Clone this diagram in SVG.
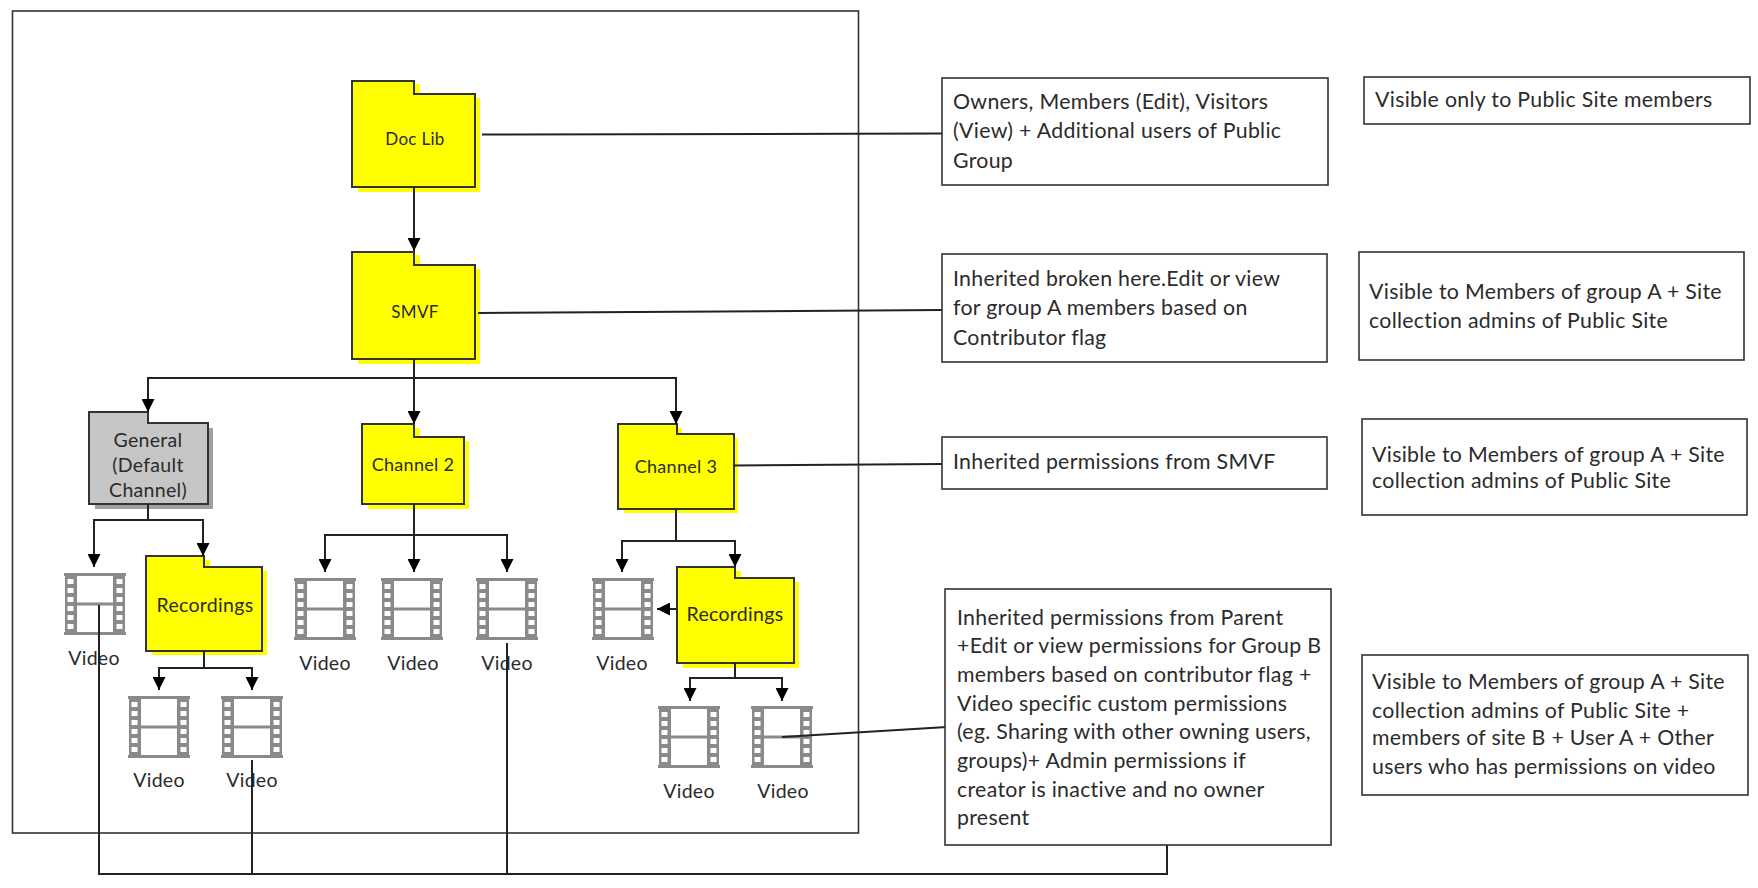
<svg xmlns="http://www.w3.org/2000/svg" xmlns:xlink="http://www.w3.org/1999/xlink" width="1758" height="888" viewBox="0 0 1758 888">
<style>
text{font-family:"Lato","Open Sans","Liberation Sans",sans-serif;fill:#2b2b2b}
.t{font-size:21.300px;letter-spacing:.3px}
.c{text-anchor:middle;font-size:19.500px;letter-spacing:.3px}
.s{font-size:17px}
.m{font-size:18px}
.box{fill:#fff;stroke:#333;stroke-width:1.6}
.folder{fill:#ff0;stroke:#333;stroke-width:2}
.shadow{fill:#ff0}
.gray{fill:#c6c6c6;stroke:#333;stroke-width:2}
.gshadow{fill:#a0a0a0}
.line{fill:none;stroke:#222;stroke-width:2}
</style>
<defs>
<marker id="arrow" markerUnits="userSpaceOnUse" markerWidth="14" markerHeight="13" refX="13" refY="6.5" orient="auto"><path d="M0 0L13 6.5L0 13Z" fill="#000"/></marker>
<symbol id="film" viewBox="0 0 62 64" width="62" height="64">
<path d="M0 2.500H62M0 61.500H62" stroke="#8a8a8a" stroke-width="3" fill="none"/>
<rect x="11.500" y="2.500" width="39" height="59" fill="#fff" stroke="#8a8a8a" stroke-width="3"/>
<path d="M11 32H51" stroke="#8a8a8a" stroke-width="3" fill="none"/>
<path d="M1 1H11V63H1ZM51 1H61V63H51Z" fill="#8a8a8a"/>
<path d="M3.500 7h6v5h-6zM3.500 16h6v5h-6zM3.500 25h6v5h-6zM3.500 34h6v5h-6zM3.500 43h6v5h-6zM3.500 52h6v5h-6zM52.500 7h6v5h-6zM52.500 16h6v5h-6zM52.500 25h6v5h-6zM52.500 34h6v5h-6zM52.500 43h6v5h-6zM52.500 52h6v5h-6z" fill="#fff"/>
</symbol>
</defs>
<rect id="frame" x="12.500" y="11" width="846" height="822" fill="#fff" stroke="#333" stroke-width="1.6"/>

<g id="doclib"><path class="shadow" d="M414 84h6v14h60v94H358v-5H414Z"/><path class="folder" d="M352 81H414V94H475V187H352Z"/><text class="c s" x="415" y="145">Doc Lib</text></g>
<g id="smvf"><path class="shadow" d="M414 255h6v14h60v95H358v-5H414Z"/><path class="folder" d="M352 252H414V265H475V359H352Z"/><text class="c s" x="415" y="318">SMVF</text></g>
<g id="general"><path class="gshadow" d="M208 428h5v81H95v-5H208Z"/><path class="gray" d="M89 412H148V423H208V504H89Z"/><text class="c" x="148" y="447">General</text><text class="c" x="148" y="472">(Default</text><text class="c" x="148" y="497">Channel)</text></g>
<g id="channel2"><path class="shadow" d="M414 428h6v13h49v68H368v-5H414Z"/><path class="folder" d="M362 424H414V437H464V504H362Z"/><text class="c m" x="413" y="471">Channel 2</text></g>
<g id="channel3"><path class="shadow" d="M677 428h5v10h56v75H624v-4H677Z"/><path class="folder" d="M618 424H677V434H734V509H618Z"/><text class="c m" x="676" y="473">Channel 3</text></g>
<g id="recordings1"><path class="shadow" d="M204 560h6v11h57v84H152v-4H204Z"/><path class="folder" d="M146 556H204V567H262V651H146Z"/><text class="c" x="205" y="612">Recordings</text></g>
<g id="recordings2"><path class="shadow" d="M735 571h6v11h58v86H683v-5H735Z"/><path class="folder" d="M677 567H735V578H794V663H677Z"/><text class="c" x="735" y="621">Recordings</text></g>

<g id="video1"><use xlink:href="#film" href="#film" x="64" y="572"/><text class="c" x="94" y="665">Video</text></g>
<g id="video2"><use xlink:href="#film" href="#film" x="128" y="695"/><text class="c" x="159" y="787">Video</text></g>
<g id="video3"><use xlink:href="#film" href="#film" x="221" y="695"/><text class="c" x="252" y="787">Video</text></g>
<g id="video4"><use xlink:href="#film" href="#film" x="294" y="577"/><text class="c" x="325" y="670">Video</text></g>
<g id="video5"><use xlink:href="#film" href="#film" x="381" y="577"/><text class="c" x="413" y="670">Video</text></g>
<g id="video6"><use xlink:href="#film" href="#film" x="476" y="577"/><text class="c" x="507" y="670">Video</text></g>
<g id="video7"><use xlink:href="#film" href="#film" x="592" y="577"/><text class="c" x="622" y="670">Video</text></g>
<g id="video8"><use xlink:href="#film" href="#film" x="658" y="705"/><text class="c" x="689" y="798">Video</text></g>
<g id="video9"><use xlink:href="#film" href="#film" x="751" y="705"/><text class="c" x="783" y="798">Video</text></g>

<g id="connectors">
<path class="line" d="M482 134.500L942 133.500"/>
<path class="line" d="M478 313L942 310"/>
<path class="line" marker-end="url(#arrow)" d="M414 187V251"/>
<path class="line" marker-end="url(#arrow)" d="M414 359V424"/>
<path class="line" marker-end="url(#arrow)" d="M414 378H148V412"/>
<path class="line" marker-end="url(#arrow)" d="M414 378H676V424"/>
<path class="line" marker-end="url(#arrow)" d="M148 504V520H94V567"/>
<path class="line" marker-end="url(#arrow)" d="M148 520H203V556"/>
<path class="line" marker-end="url(#arrow)" d="M414 504V535H325V572"/>
<path class="line" marker-end="url(#arrow)" d="M414 535V572"/>
<path class="line" marker-end="url(#arrow)" d="M414 535H507V572"/>
<path class="line" marker-end="url(#arrow)" d="M676 509V541H622V572"/>
<path class="line" marker-end="url(#arrow)" d="M676 541H735V567"/>
<path class="line" marker-end="url(#arrow)" d="M677 609H657"/>
<path class="line" marker-end="url(#arrow)" d="M735 663V678H690V701"/>
<path class="line" marker-end="url(#arrow)" d="M735 678H782V701"/>
<path class="line" marker-end="url(#arrow)" d="M204 651V668H159V690"/>
<path class="line" marker-end="url(#arrow)" d="M204 668H252V690"/>
<path class="line" d="M782 737L947 727"/>
<path class="line" d="M99 605V874H1167V845"/>
<path class="line" d="M252 760V874"/>
<path class="line" d="M507 643V874"/>
<path class="line" d="M734 465.500L942 464"/>
</g>

<g id="note1"><rect class="box" x="942" y="78" width="386" height="107"/><text class="t" x="953" y="109">Owners, Members (Edit), Visitors</text><text class="t" x="953" y="138">(View) + Additional users of Public</text><text class="t" x="953" y="168">Group</text></g>
<g id="note2"><rect class="box" x="942" y="254" width="385" height="108"/><text class="t" x="953" y="286">Inherited broken here.Edit or view</text><text class="t" x="953" y="315">for group A members based on</text><text class="t" x="953" y="345">Contributor flag</text></g>
<g id="note3"><rect class="box" x="942" y="437" width="385" height="52"/><text class="t" x="953" y="469">Inherited permissions from SMVF</text></g>
<g id="note4"><rect class="box" x="945" y="589" width="386" height="256"/>
<text class="t" x="957" y="625">Inherited permissions from Parent</text>
<text class="t" x="957" y="653">+Edit or view permissions for Group B</text>
<text class="t" x="957" y="682">members based on contributor flag +</text>
<text class="t" x="957" y="711">Video specific custom permissions</text>
<text class="t" x="957" y="739">(eg. Sharing with other owning users,</text>
<text class="t" x="957" y="768">groups)+ Admin permissions if</text>
<text class="t" x="957" y="797">creator is inactive and no owner</text>
<text class="t" x="957" y="825">present</text></g>
<g id="vis1"><rect class="box" x="1364" y="77" width="386" height="47"/><text class="t" x="1375" y="107">Visible only to Public Site members</text></g>
<g id="vis2"><rect class="box" x="1359" y="252" width="385" height="108"/><text class="t" x="1369" y="299">Visible to Members of group A + Site</text><text class="t" x="1369" y="328">collection admins of Public Site</text></g>
<g id="vis3"><rect class="box" x="1362" y="419" width="385" height="96"/><text class="t" x="1372" y="462">Visible to Members of group A + Site</text><text class="t" x="1372" y="488">collection admins of Public Site</text></g>
<g id="vis4"><rect class="box" x="1362" y="655" width="386" height="140"/><text class="t" x="1372" y="689">Visible to Members of group A + Site</text><text class="t" x="1372" y="718">collection admins of Public Site +</text><text class="t" x="1372" y="745">members of site B + User A + Other</text><text class="t" x="1372" y="774">users who has permissions on video</text></g>
</svg>
